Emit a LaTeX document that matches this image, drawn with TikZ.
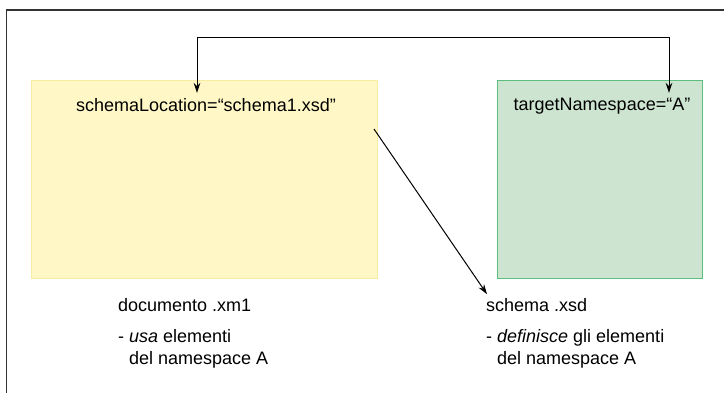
\documentclass[tikz,border=0pt]{standalone}
\usepackage{fontspec}
\setmainfont{Liberation Sans}
\usetikzlibrary{arrows.meta,calc}
\definecolor{docfill}{HTML}{FFF8C6}
\definecolor{docline}{HTML}{F7EDA2}
\definecolor{xsdfill}{HTML}{CDE5D0}
\definecolor{xsdline}{HTML}{5CBF7E}
\definecolor{framegray}{HTML}{333333}
\tikzset{
  frameline/.style={draw=framegray, line width=1.5pt},
  docbox/.style={draw=docline, fill=docfill, line width=1pt, anchor=north west, inner sep=0pt},
  xsdbox/.style={draw=xsdline, fill=xsdfill, line width=1pt, anchor=north west, inner sep=0pt},
  attr/.style={inner sep=0pt, font=\fontsize{18}{22}\selectfont},
  caption/.style={inner sep=0pt, anchor=west, align=left, font=\fontsize{18}{22}\selectfont},
  link/.style={draw=black, line width=1pt, -{Stealth[length=10pt,width=6.5pt]}},
  dlink/.style={draw=black, line width=1pt, {Stealth[length=10pt,width=6.5pt]}-{Stealth[length=10pt,width=6.5pt]}},
}
\begin{document}
\begin{tikzpicture}[x=1pt,y=-1pt]
\useasboundingbox (0,0) rectangle (724,392);
% outer frame, open to the right and bottom
\draw[frameline] (6.5,400) -- (6.5,10) -- (730,10);

% the two documents
\node[docbox, minimum width=346pt, minimum height=198pt] (doc) at (31,80) {};
\node[xsdbox, minimum width=205pt, minimum height=198pt] (xsd) at (497,80) {};

% attributes inside the boxes
\node[attr, anchor=north] (loc) at (206,98) {schemaLocation=“schema1.xsd”};
\node[attr, anchor=north] (tns) at (602,98) {targetNamespace=“A”};

% captions under the boxes
\node[caption] (docname) at (118,305) {documento .xm1};
\node[caption] (docuse) at (118,349) {- \textit{usa} elementi\\\hphantom{- }del namespace A};
\node[caption] (xsdname) at (486,305) {schema .xsd};
\node[caption] (xsddef) at (486,349) {- \textit{definisce} gli elementi\\\hphantom{- }del namespace A};

% namespace link between the two attributes
\coordinate (locend) at ($(loc.north)+(-9,-5)$);
\coordinate (tnsend) at ($(tns.north)+(67,-5)$);
\coordinate (ridge) at (0,37);
\draw[dlink] (locend) -- (locend |- ridge) -- (tnsend |- ridge) -- (tnsend);

% schemaLocation points to the schema file
\coordinate (locfrom) at ($(doc.north east)+(-4,49)$);
\draw[link] (locfrom) -- ($(xsdname.north west)+(1,-4)$);
\end{tikzpicture}
\end{document}
